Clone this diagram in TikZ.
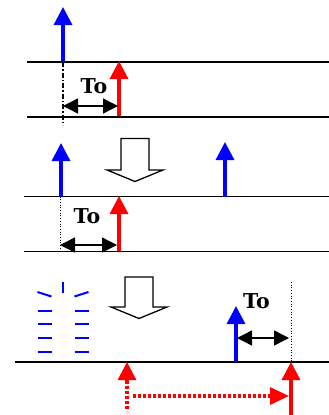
\documentclass[tikz,border=0pt]{standalone}
\usepackage{fontspec}
\newfontfamily\labelfont{DejaVu Serif}
\usepackage{tikz}
\usetikzlibrary{arrows.meta}
\definecolor{pulseblue}{HTML}{0000FF}
\definecolor{echored}{HTML}{FF0000}

\begin{document}
\begin{tikzpicture}[x=1pt,y=-1pt,
  axis/.style={black,line width=1.5pt},
  pulse/.style={-{Triangle[length=18pt,width=18pt]},line width=3.2pt},
  gap/.style={{Triangle[length=15pt,width=15pt]}-{Triangle[length=15pt,width=15pt]},line width=1.4pt},
  lbl/.style={font=\labelfont\fontsize{20.5}{24}\selectfont\bfseries,inner sep=0pt,anchor=base},
  guide/.style={black,line width=0.7pt,dotted},
  hollow/.style={draw=black,fill=white,line width=1.3pt,line join=miter},
  ghost/.style={pulseblue,line width=2pt}]
\useasboundingbox (0,0) rectangle (329,415);

% first row: pulse sent, echo after To
\draw[axis] (27,62) -- (329,62);
\draw[axis] (27,117) -- (329,117);
\coordinate (tx1) at (63,62);  \coordinate (tx1top) at (63,7);
\coordinate (rx1) at (119,116); \coordinate (rx1top) at (119,61);
\draw[black,line width=1.1pt,dash pattern=on 5pt off 2pt on 1.5pt off 2pt] (tx1) -- (63,125);
\draw[pulse,pulseblue] (tx1) -- (tx1top);
\draw[pulse,echored] (rx1) -- (rx1top);
\coordinate (g1a) at (63,106); \coordinate (g1b) at (118,106);
\draw[gap] (g1a) -- (g1b);
\node[lbl] (to1) at (94,93) {To};

% second row
\draw[hollow] (121,138.5) -- (149,138.5) -- (149,170) -- (163,170) -- (135,181.5) -- (107,170) -- (121,170) -- cycle;
\draw[axis] (24,196.5) -- (329,196.5);
\draw[axis] (24,251.5) -- (329,251.5);
\coordinate (tx2) at (61,196.5);  \coordinate (tx2top) at (61,143);
\coordinate (tx3) at (225,196.5); \coordinate (tx3top) at (225,142);
\coordinate (rx2) at (119,251); \coordinate (rx2top) at (119,196);
\draw[guide] (60,196.5) -- (60,251.5);
\draw[pulse,pulseblue] (tx2) -- (tx2top);
\draw[pulse,pulseblue] (tx3) -- (tx3top);
\draw[pulse,echored] (rx2) -- (rx2top);
\coordinate (g2a) at (60,245); \coordinate (g2b) at (117,245);
\draw[gap] (g2a) -- (g2b);
\node[lbl] (to2) at (87,223) {To};

% third row
\draw[hollow] (125,277) -- (153,277) -- (153,307) -- (167,307) -- (139,318.5) -- (111,307) -- (125,307) -- cycle;
\foreach \y in {310.5,324,338,352}{
  \draw[ghost] (37.5,\y) -- (51.5,\y);
  \draw[ghost] (74.5,\y) -- (88.5,\y);
}
\draw[ghost] (37.5,292) -- (51.5,296.5);
\draw[ghost] (74.5,296.5) -- (88.5,292);
\draw[ghost] (62.7,281.5) -- (62.7,292.5);
\draw[axis] (15,362) -- (329,362);
\coordinate (tx4) at (236,362); \coordinate (tx4top) at (236,306);
\draw[guide] (291,282) -- (291,362);
\draw[pulse,pulseblue] (tx4) -- (tx4top);
\coordinate (g3a) at (237,338); \coordinate (g3b) at (289,338);
\draw[gap] (g3a) -- (g3b);
\node[lbl] (to3) at (256.5,308.5) {To};
% echo shifted by To
\coordinate (old) at (127,381); \coordinate (oldtop) at (127,362);
\coordinate (new) at (291,415); \coordinate (newtop) at (291,362);
\draw[echored,line width=3.2pt,dash pattern=on 3pt off 2pt] (127,381) -- (127,411);
\draw[pulse,echored] (old) -- (oldtop);
\draw[pulse,echored] (new) -- (newtop);
\coordinate (m1) at (133,396); \coordinate (m2) at (289,396);
\draw[echored,line width=3.2pt,dash pattern=on 3pt off 2pt,-{Triangle[length=19pt,width=17pt]}] (m1) -- (m2);
\end{tikzpicture}
\end{document}
